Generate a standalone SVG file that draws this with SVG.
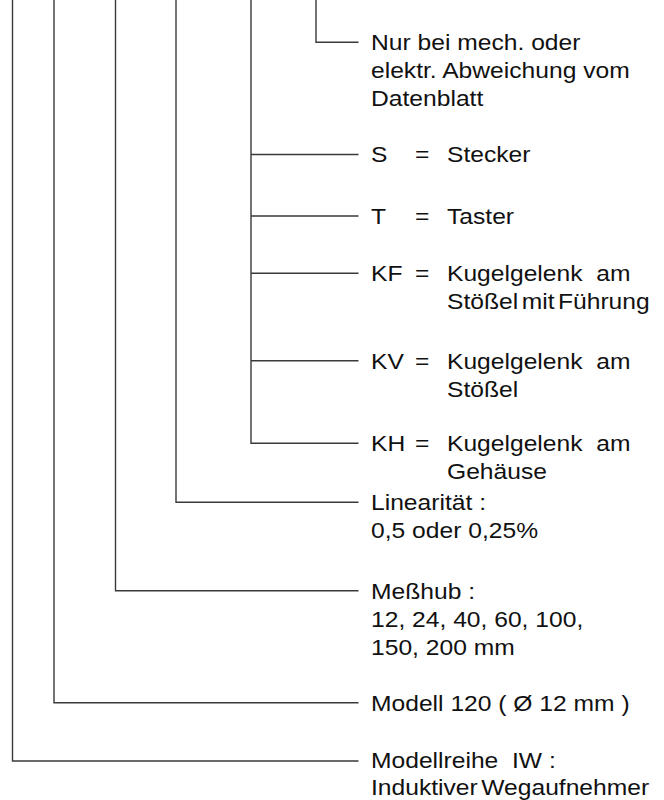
<svg xmlns="http://www.w3.org/2000/svg" width="664" height="800" viewBox="0 0 664 800">
<style>
.ln{stroke:#3a3a3a;stroke-width:1.4;fill:none}
text{font-family:"Liberation Sans",Arial,sans-serif;font-size:22px;fill:#111}
</style>
<rect width="664" height="800" fill="#fff"/>
<g id="connectors">
<path class="ln" d="M12.5,0 V761 H358.5"/>
<path class="ln" d="M54,0 V702.7 H358.5"/>
<path class="ln" d="M115.5,0 V590.7 H358.5"/>
<path class="ln" d="M176,0 V502.3 H358.5"/>
<path class="ln" d="M251,0 V443.3 H358.5"/>
<path class="ln" d="M251,154.5 H358.5 M251,216 H358.5 M251,273.3 H358.5 M251,360.7 H358.5"/>
<path class="ln" d="M316,0 V42.3 H358.5"/>
</g>
<g id="n-abweichung">
<text transform="translate(371,50) scale(1.12,1)">Nur bei mech. oder</text>
<text transform="translate(371,78) scale(1.12,1)">elektr. Abweichung vom</text>
<text transform="translate(371,106) scale(1.12,1)">Datenblatt</text>
</g>
<g id="n-s">
<text transform="translate(371,162) scale(1.12,1)">S</text>
<text transform="translate(415,162) scale(1.12,1)">=</text>
<text transform="translate(447,162) scale(1.12,1)">Stecker</text>
</g>
<g id="n-t">
<text transform="translate(371,223.5) scale(1.12,1)">T</text>
<text transform="translate(415,223.5) scale(1.12,1)">=</text>
<text transform="translate(447,223.5) scale(1.12,1)">Taster</text>
</g>
<g id="n-kf">
<text transform="translate(371,281) scale(1.12,1)">KF</text>
<text transform="translate(415,281) scale(1.12,1)">=</text>
<text transform="translate(447,281) scale(1.12,1)" xml:space="preserve">Kugelgelenk  am</text>
<text transform="translate(447,309) scale(1.12,1)" word-spacing="-3">Stößel mit Führung</text>
</g>
<g id="n-kv">
<text transform="translate(371,368.5) scale(1.12,1)">KV</text>
<text transform="translate(415,368.5) scale(1.12,1)">=</text>
<text transform="translate(447,368.5) scale(1.12,1)" xml:space="preserve">Kugelgelenk  am</text>
<text transform="translate(447,396.5) scale(1.12,1)">Stößel</text>
</g>
<g id="n-kh">
<text transform="translate(371,451) scale(1.12,1)">KH</text>
<text transform="translate(415,451) scale(1.12,1)">=</text>
<text transform="translate(447,451) scale(1.12,1)" xml:space="preserve">Kugelgelenk  am</text>
<text transform="translate(447,479) scale(1.12,1)">Gehäuse</text>
</g>
<g id="n-linearitaet">
<text transform="translate(371,510) scale(1.12,1)">Linearität :</text>
<text transform="translate(371,538) scale(1.12,1)">0,5 oder 0,25%</text>
</g>
<g id="n-messhub">
<text transform="translate(371,598.5) scale(1.12,1)">Meßhub :</text>
<text transform="translate(371,626.5) scale(1.12,1)">12, 24, 40, 60, 100,</text>
<text transform="translate(371,654.5) scale(1.12,1)">150, 200 mm</text>
</g>
<g id="n-modell">
<text transform="translate(371,710.5) scale(1.12,1)">Modell 120 ( Ø 12 mm )</text>
</g>
<g id="n-modellreihe">
<text transform="translate(371,768) scale(1.12,1)" xml:space="preserve">Modellreihe  IW :</text>
<text transform="translate(371,794.5) scale(1.12,1)" word-spacing="-3">Induktiver Wegaufnehmer</text>
</g>
</svg>
